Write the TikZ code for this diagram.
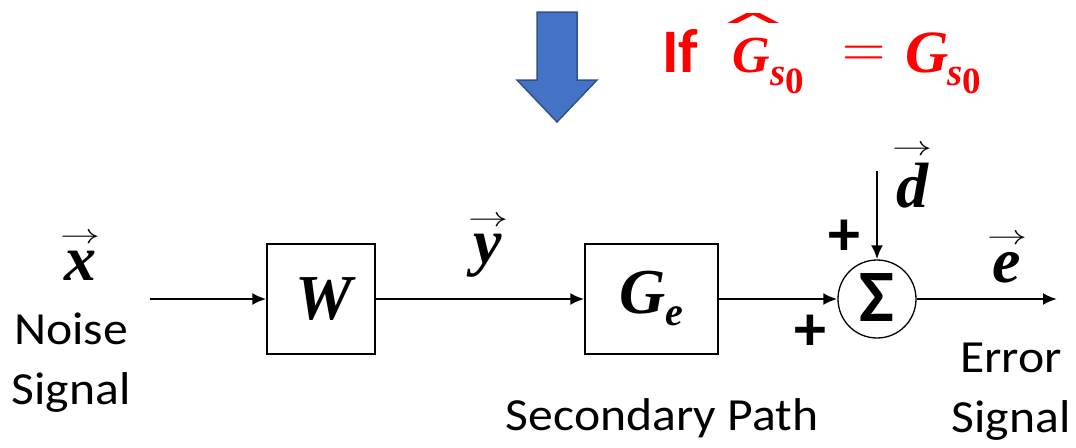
\RequirePackage{fix-cm}
\documentclass[tikz,border=0pt]{standalone}
\usepackage{fontspec}
\usepackage{amsmath}
\usepackage{graphicx}
\setmainfont{Carlito}[FakeStretch=1.08]
\newfontfamily\plainsans{Carlito}
\newfontfamily\dejavu{DejaVu Sans}
\newfontfamily\mf{Liberation Serif}
\newcommand{\mv}[1]{{\mf\bfseries\itshape #1}}
\newcommand{\varrow}{\resizebox{40pt}{10pt}{$\rightarrow$}}
\newcommand{\vv}[1]{\vbox{\offinterlineskip\halign{\hfil##\hfil\cr\varrow\cr\noalign{\kern7pt}{\fontsize{64}{64}\selectfont\mv{#1}}\cr}}}
\newcommand{\hatG}{\vbox{\offinterlineskip\halign{\hfil##\hfil\cr\hspace{4pt}\resizebox{80pt}{10pt}{\dejavu ∧}\cr\noalign{\kern14pt}{\fontsize{52}{52}\selectfont\mv{G}}\cr}}}
\newcommand{\putat}[2]{\makebox[0pt][l]{\hspace{#1}#2}}
\newcommand{\subz}{{\fontsize{39}{39}\selectfont\mv{s}}\raisebox{-8pt}{\fontsize{37}{37}\selectfont\mf\bfseries 0}}
\usetikzlibrary{arrows.meta}
\definecolor{arrowblue}{HTML}{4472C4}
\definecolor{arrowedge}{HTML}{2F528F}
\definecolor{condred}{HTML}{FF0000}
\begin{document}
\begin{tikzpicture}[x=1pt,y=-1pt,
  blk/.style={draw, line width=1.3pt, minimum height=110pt, inner sep=0pt},
  sig/.style={line width=2.5pt, -{Latex[length=14pt,width=12pt]}},
  lbl/.style={font=\fontsize{46}{60}\selectfont, align=center, inner sep=0pt, anchor=base},
  vlab/.style={inner sep=0pt, anchor=base},
  pm/.style={font=\plainsans\fontsize{64}{64}\selectfont\bfseries, inner sep=0pt},
]
\useasboundingbox (0,0) rectangle (1076,447);
% blue arrow
\draw[fill=arrowblue, draw=arrowedge, line width=1.5pt]
  (537,12) -- (577,12) -- (577,80) -- (597,80) -- (557,122) -- (517,80) -- (537,80) -- cycle;
% condition
\node[anchor=base west, text=condred, inner sep=0pt] (cond) at (662,72)
  {\putat{0pt}{\plainsans\fontsize{62}{62}\selectfont\bfseries If}%
   \putat{47pt}{\hatG}%
   \putat{108pt}{\raisebox{-13pt}{\subz}}%
   \putat{180pt}{\raisebox{5pt}{\fontsize{60}{60}\selectfont$=$}}%
   \putat{243pt}{\fontsize{60}{60}\selectfont\mv{G}}%
   \putat{285pt}{\raisebox{-13pt}{\subz}}%
   \rule{338pt}{0pt}};
% blocks
\node[blk, minimum width=108pt] (W) at (321,299) {\hspace{6pt}\fontsize{64}{64}\selectfont\mv{W}};
\node[blk, minimum width=133pt] (G) at (651.5,299)
  {\fontsize{64}{64}\selectfont\mv{G}\raisebox{-12pt}{\fontsize{40}{40}\selectfont\mv{e}}};
\node[draw, circle, line width=1.3pt, minimum size=78pt, inner sep=0pt] (S) at (877,299)
  {\raisebox{2pt}{\plainsans\fontsize{74}{74}\selectfont\bfseries Σ}};
% free ends
\coordinate (in) at (150,299);
\coordinate (out) at (1057,299);
\coordinate (dtop) at (877,171);
% connectors
\draw[sig] (in) -- (W);
\draw[sig] (W) -- (G);
\draw[sig] (G) -- (S);
\draw[sig] (S) -- (out);
\draw[sig] (dtop) -- (S);
% labels
\node[vlab] (xl) at (80,280) {\vv{x}};
\node[lbl] (noise) at (71,404) {Noise\\Signal};
\node[vlab] (yl) at (488,263) {\vv{y}};
\node[vlab] (dl) at (912,207) {\vv{d}};
\node[vlab] (el) at (1007,282) {\vv{e}};
\node[lbl] (err) at (1011,432) {Error\\Signal};
\node[lbl] (sec) at (662,430) {Secondary Path};
\node[pm] (p1) at (844,238) {+};
\node[pm] (p2) at (810,333) {+};
\end{tikzpicture}
\end{document}
